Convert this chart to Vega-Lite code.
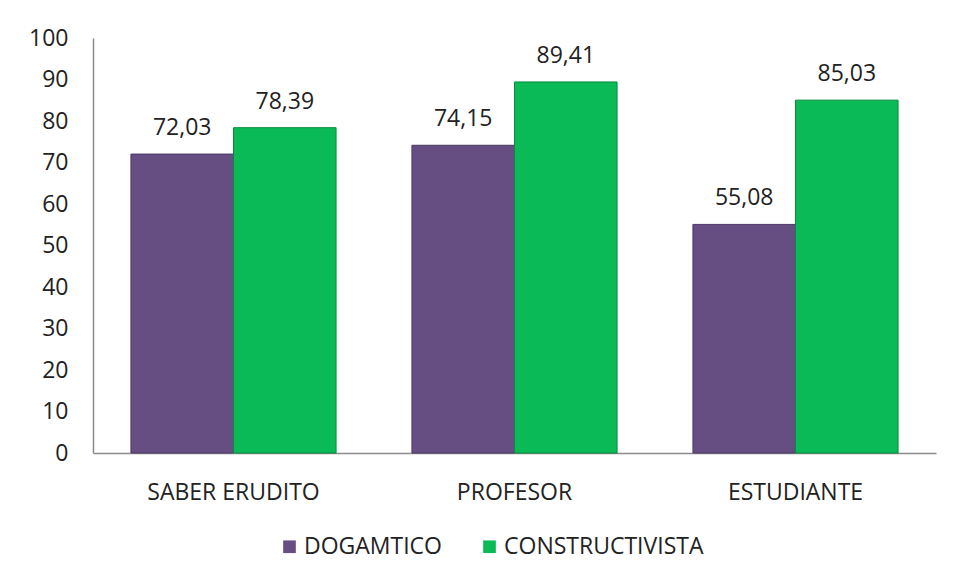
{
  "$schema": "https://vega.github.io/schema/vega-lite/v6.json",
  "width": 843,
  "height": 415,
  "autosize": {"type": "none"},
  "padding": {"left": 93, "top": 38, "right": 20, "bottom": 126},
  "background": "white",
  "config": {
    "font": "Open Sans",
    "view": {"stroke": null},
    "locale": {"number": {"decimal": ",", "thousands": ".", "grouping": [3], "currency": ["", " €"]}}
  },
  "data": {
    "values": [
      {"categoria": "SABER ERUDITO", "serie": "DOGAMTICO", "valor": 72.03},
      {"categoria": "SABER ERUDITO", "serie": "CONSTRUCTIVISTA", "valor": 78.39},
      {"categoria": "PROFESOR", "serie": "DOGAMTICO", "valor": 74.15},
      {"categoria": "PROFESOR", "serie": "CONSTRUCTIVISTA", "valor": 89.41},
      {"categoria": "ESTUDIANTE", "serie": "DOGAMTICO", "valor": 55.08},
      {"categoria": "ESTUDIANTE", "serie": "CONSTRUCTIVISTA", "valor": 85.03}
    ]
  },
  "encoding": {
    "x": {
      "field": "categoria", "type": "nominal", "sort": null,
      "scale": {"paddingInner": 0.27, "paddingOuter": 0.135},
      "axis": {"title": null, "labelAngle": 0, "ticks": false, "labelPadding": 28, "labelFontSize": 23, "labelColor": "#222", "domainColor": "#8c8c8c", "domainWidth": 1.5, "grid": false, "labelLimit": 400}
    },
    "xOffset": {"field": "serie", "type": "nominal", "sort": ["DOGAMTICO", "CONSTRUCTIVISTA"]},
    "y": {
      "field": "valor", "type": "quantitative",
      "scale": {"domain": [0, 100], "nice": false},
      "axis": {"title": null, "values": [0,10,20,30,40,50,60,70,80,90,100], "ticks": false, "grid": false, "labelPadding": 25, "labelFontSize": 23, "labelColor": "#222", "domainColor": "#8c8c8c", "domainWidth": 1.5}
    }
  },
  "layer": [
    {
      "mark": {"type": "bar", "strokeWidth": 1},
      "encoding": {
        "color": {
          "field": "serie", "type": "nominal", "sort": ["DOGAMTICO", "CONSTRUCTIVISTA"],
          "scale": {"domain": ["DOGAMTICO", "CONSTRUCTIVISTA"], "range": ["#664E83", "#0ABA56"]},
          "legend": {"title": null, "orient": "none", "legendX": 185, "legendY": 497, "direction": "horizontal", "symbolType": "square", "symbolSize": 160, "symbolStrokeWidth": 0, "labelFontSize": 23, "labelColor": "#222", "columnPadding": 36, "labelOffset": 3, "labelLimit": 400}
        },
        "stroke": {
          "field": "serie", "type": "nominal",
          "scale": {"domain": ["DOGAMTICO", "CONSTRUCTIVISTA"], "range": ["#4B3866", "#078A3F"]},
          "legend": null
        }
      }
    },
    {
      "mark": {"type": "text", "baseline": "bottom", "dy": -14, "fontSize": 23, "color": "#222"},
      "encoding": {
        "text": {"field": "valor", "type": "quantitative", "format": ".2f"}
      }
    }
  ]
}
